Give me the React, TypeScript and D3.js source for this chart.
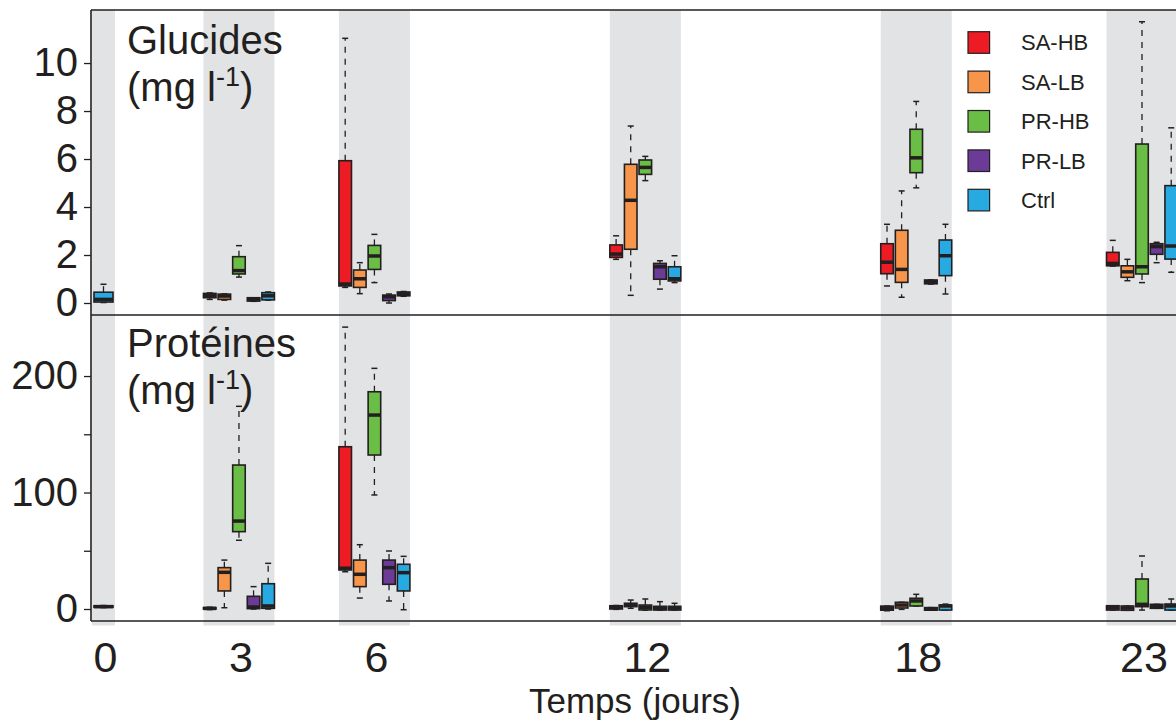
import { useEffect, useRef } from 'react';
import * as d3 from 'd3';

const groups = ['SA-HB', 'SA-LB', 'PR-HB', 'PR-LB', 'Ctrl'];
const groupColors = ['#ed1c24', '#f7964a', '#6abd45', '#6b3b97', '#27aae1'];
const days = [0, 3, 6, 12, 18, 23];

// [day, group, min, q1, median, q3, max]
const glucides = [
  [0, 'Ctrl', 0.02, 0.04, 0.15, 0.45, 0.78],
  [3, 'SA-HB', 0.15, 0.22, 0.3, 0.4, 0.42],
  [3, 'SA-LB', 0.12, 0.15, 0.29, 0.37, 0.38],
  [3, 'PR-HB', 1.08, 1.21, 1.35, 1.93, 2.39],
  [3, 'PR-LB', 0.07, 0.08, 0.15, 0.22, 0.22],
  [3, 'Ctrl', 0.12, 0.13, 0.3, 0.43, 0.46],
  [6, 'SA-HB', 0.65, 0.71, 0.79, 5.93, 11.03],
  [6, 'SA-LB', 0.39, 0.65, 1.01, 1.375, 1.68],
  [6, 'PR-HB', 0.85, 1.4, 1.96, 2.4, 2.86],
  [6, 'PR-LB', 0.0, 0.1, 0.26, 0.33, 0.375],
  [6, 'Ctrl', 0.28, 0.3, 0.38, 0.46, 0.48],
  [12, 'SA-HB', 1.82, 1.9, 2.04, 2.42, 2.8],
  [12, 'SA-LB', 0.32, 2.24, 4.28, 5.78, 7.375],
  [12, 'PR-HB', 5.1, 5.36, 5.65, 5.96, 6.11],
  [12, 'PR-LB', 0.58, 0.99, 1.51, 1.65, 1.76],
  [12, 'Ctrl', 0.85, 0.92, 1.01, 1.51, 1.97],
  [18, 'SA-HB', 0.71, 1.22, 1.7, 2.47, 3.28],
  [18, 'SA-LB', 0.24, 0.86, 1.4, 3.03, 4.67],
  [18, 'PR-HB', 4.8, 5.43, 6.05, 7.24, 8.4],
  [18, 'PR-LB', 0.79, 0.8, 0.88, 0.96, 0.96],
  [18, 'Ctrl', 0.375, 1.14, 1.97, 2.625, 3.28],
  [23, 'SA-HB', 1.54, 1.55, 1.65, 2.11, 2.61],
  [23, 'SA-LB', 0.93, 1.07, 1.3, 1.55, 1.82],
  [23, 'PR-HB', 0.85, 1.21, 1.51, 6.625, 11.72],
  [23, 'PR-LB', 1.68, 2.03, 2.35, 2.47, 2.53],
  [23, 'Ctrl', 1.28, 1.83, 2.375, 4.89, 7.3],
];

const proteines = [
  [0, 'Ctrl', 1.2, 1.5, 2.0, 2.8, 3.0],
  [3, 'SA-HB', -0.5, 0, 0.5, 1.2, 1.5],
  [3, 'SA-LB', 1.1, 15.5, 31.5, 35.5, 42],
  [3, 'PR-HB', 59, 66.4, 75.5, 123.6, 174],
  [3, 'PR-LB', 0, 0.3, 1.7, 10.9, 19.2],
  [3, 'Ctrl', 0, 0.6, 2.6, 21.7, 39.2],
  [6, 'SA-HB', 32, 33.5, 35, 139.3, 242],
  [6, 'SA-LB', 9.4, 19.2, 29.8, 42, 55.2],
  [6, 'PR-HB', 97.9, 132.2, 166.5, 186.5, 206.6],
  [6, 'PR-LB', 6.9, 21.2, 35.5, 42, 49.8],
  [6, 'Ctrl', -0.6, 15.5, 31.2, 38.4, 45.2],
  [12, 'SA-HB', -0.3, 0, 1.5, 2.8, 3.0],
  [12, 'SA-LB', 0.6, 2, 3.7, 4.9, 7.7],
  [12, 'PR-HB', -1.0, -0.8, 1.5, 3.4, 8.6],
  [12, 'PR-LB', -0.9, -0.9, 0.8, 2.3, 6.3],
  [12, 'Ctrl', -0.9, -0.9, 0.8, 2.3, 4.9],
  [18, 'SA-HB', -1.5, -1, 0.5, 2.5, 2.5],
  [18, 'SA-LB', -0.3, 0.86, 3.4, 5.75, 5.75],
  [18, 'PR-HB', 2.6, 2.6, 6.9, 9.2, 12.6],
  [18, 'PR-LB', -1, -1, 0, 1.2, 1.2],
  [18, 'Ctrl', -0.9, -0.9, 2.6, 3.4, 4.2],
  [23, 'SA-HB', -0.9, -0.9, 1, 2.8, 2.8],
  [23, 'SA-LB', -1.1, -1.1, 0.8, 2.6, 2.6],
  [23, 'PR-HB', -0.9, 2.0, 4.0, 25.75, 45.5],
  [23, 'PR-LB', 0.6, 0.6, 2, 4.0, 4.0],
  [23, 'Ctrl', -0.9, -0.9, 2.6, 4.3, 8.6],
];

const glucTicks = [0, 2, 4, 6, 8, 10];
const protTicks = [0, 50, 100, 150, 200];
const protLabels = [0, 100, 200];

export default function App() {
  const svgRef = useRef(null);

  useEffect(() => {
    const svg = d3.select(svgRef.current);
    svg.selectAll('*').remove();

    const width = 1176;
    const height = 724;
    const left = 91;
    const top = 10;
    const mid = 315;
    const bottom = 621;
    const font = '"Liberation Sans", Arial, sans-serif';
    const ink = '#231f20';

    const x = d3.scaleLinear().domain([0, 23]).range([103.5, 1142]);
    const band = d3.scaleBand().domain(groups).range([-35.5, 35.5]).paddingInner(0.14);
    const color = d3.scaleOrdinal().domain(groups).range(groupColors);

    const yG = d3.scaleLinear().domain([-0.5, 12.21]).range([mid, top]);
    const yP = d3.scaleLinear().domain([-10.3, 252.4]).range([bottom, mid]);

    svg.attr('width', width).attr('height', height);

    // grey sampling bands
    svg.selectAll('.day-band')
      .data(days)
      .join('rect')
      .attr('x', d => d === 0 ? x(d) - 11.5 : x(d) - 35.5)
      .attr('width', d => d === 0 ? 23 : 71)
      .attr('y', top)
      .attr('height', bottom + 4.5 - top)
      .attr('fill', '#e2e3e5');

    const drawPanel = (rows, y) => {
      const g = svg.append('g');
      rows.forEach(([day, grp, mn, q1, md, q3, mx]) => {
        let cx, w;
        if (day === 0) {
          cx = x(day);
          w = 19;
        } else {
          w = band.bandwidth();
          cx = x(day) + band(grp) + w / 2;
        }
        const cap = 6;
        // whiskers
        [[q3, mx], [q1, mn]].forEach(([a, b]) => {
          if (Math.abs(y(a) - y(b)) > 1) {
            g.append('line')
              .attr('x1', cx).attr('x2', cx)
              .attr('y1', y(a)).attr('y2', y(b))
              .attr('stroke', ink).attr('stroke-width', 1.3)
              .attr('stroke-dasharray', '6,6');
          }
          g.append('line')
            .attr('x1', cx - cap / 2).attr('x2', cx + cap / 2)
            .attr('y1', y(b)).attr('y2', y(b))
            .attr('stroke', ink).attr('stroke-width', 1.5);
        });
        const yTop = y(q3);
        const hBox = Math.max(y(q1) - y(q3), 1.5);
        g.append('rect')
          .attr('x', cx - w / 2).attr('width', w)
          .attr('y', yTop).attr('height', hBox)
          .attr('fill', color(grp))
          .attr('stroke', ink).attr('stroke-width', 1.6);
        g.append('line')
          .attr('x1', cx - w / 2).attr('x2', cx + w / 2)
          .attr('y1', y(md)).attr('y2', y(md))
          .attr('stroke', ink).attr('stroke-width', 3.5);
      });
    };

    drawPanel(glucides, yG);
    drawPanel(proteines, yP);

    // frame
    const frame = svg.append('g').attr('stroke', ink).attr('stroke-width', 1.6);
    [top, mid, bottom].forEach(yy => {
      frame.append('line').attr('x1', left).attr('x2', width + 5).attr('y1', yy).attr('y2', yy);
    });
    frame.append('line').attr('x1', left).attr('x2', left).attr('y1', top).attr('y2', bottom);

    // y axes
    const axG = svg.append('g')
      .attr('transform', `translate(${left},0)`)
      .call(d3.axisLeft(yG).tickValues(glucTicks).tickSize(7).tickPadding(6));
    const axP = svg.append('g')
      .attr('transform', `translate(${left},0)`)
      .call(d3.axisLeft(yP).tickValues(protTicks).tickSize(7).tickPadding(6)
        .tickFormat(d => protLabels.includes(d) ? String(d) : ''));
    [axG, axP].forEach(ax => {
      ax.select('.domain').remove();
      ax.selectAll('line').attr('stroke', ink).attr('stroke-width', 1.3);
      ax.selectAll('text')
        .attr('fill', ink)
        .style('font-family', font)
        .style('font-size', '40px');
    });

    // x axis labels
    svg.selectAll('.xlab')
      .data(days)
      .join('text')
      .attr('x', d => x(d) + 2)
      .attr('y', 672)
      .attr('text-anchor', 'middle')
      .attr('fill', ink)
      .style('font-family', font)
      .style('font-size', '43px')
      .text(d => d);

    svg.append('text')
      .attr('x', 635)
      .attr('y', 713)
      .attr('text-anchor', 'middle')
      .attr('fill', ink)
      .style('font-family', font)
      .style('font-size', '35px')
      .text('Temps (jours)');

    // panel titles
    const title = (name, y1, y2) => {
      svg.append('text')
        .attr('x', 127).attr('y', y1)
        .attr('fill', ink)
        .style('font-family', font).style('font-size', '40px')
        .text(name);
      const t = svg.append('text')
        .attr('x', 127).attr('y', y2)
        .attr('fill', ink)
        .style('font-family', font).style('font-size', '40px');
      t.append('tspan').text('(mg l');
      t.append('tspan').attr('dy', -15).style('font-size', '27px').text('-1');
      t.append('tspan').attr('dy', 15).text(')');
    };
    title('Glucides', 54, 101);
    title('Protéines', 357, 404);

    // legend
    const legend = svg.append('g').attr('transform', 'translate(968,42.5)');
    groups.forEach((grp, i) => {
      const ly = i * 39.4;
      legend.append('rect')
        .attr('x', 0).attr('y', ly - 10.8)
        .attr('width', 21.6).attr('height', 21.6)
        .attr('fill', color(grp))
        .attr('stroke', ink).attr('stroke-width', 1.2);
      legend.append('text')
        .attr('x', 53).attr('y', ly)
        .attr('dy', '0.36em')
        .attr('fill', ink)
        .style('font-family', font).style('font-size', '22px')
        .text(grp);
    });
  }, []);

  return (
    <svg ref={svgRef} style={{ position: 'absolute', left: 0, top: 0, background: '#fff' }}></svg>
  );
}
